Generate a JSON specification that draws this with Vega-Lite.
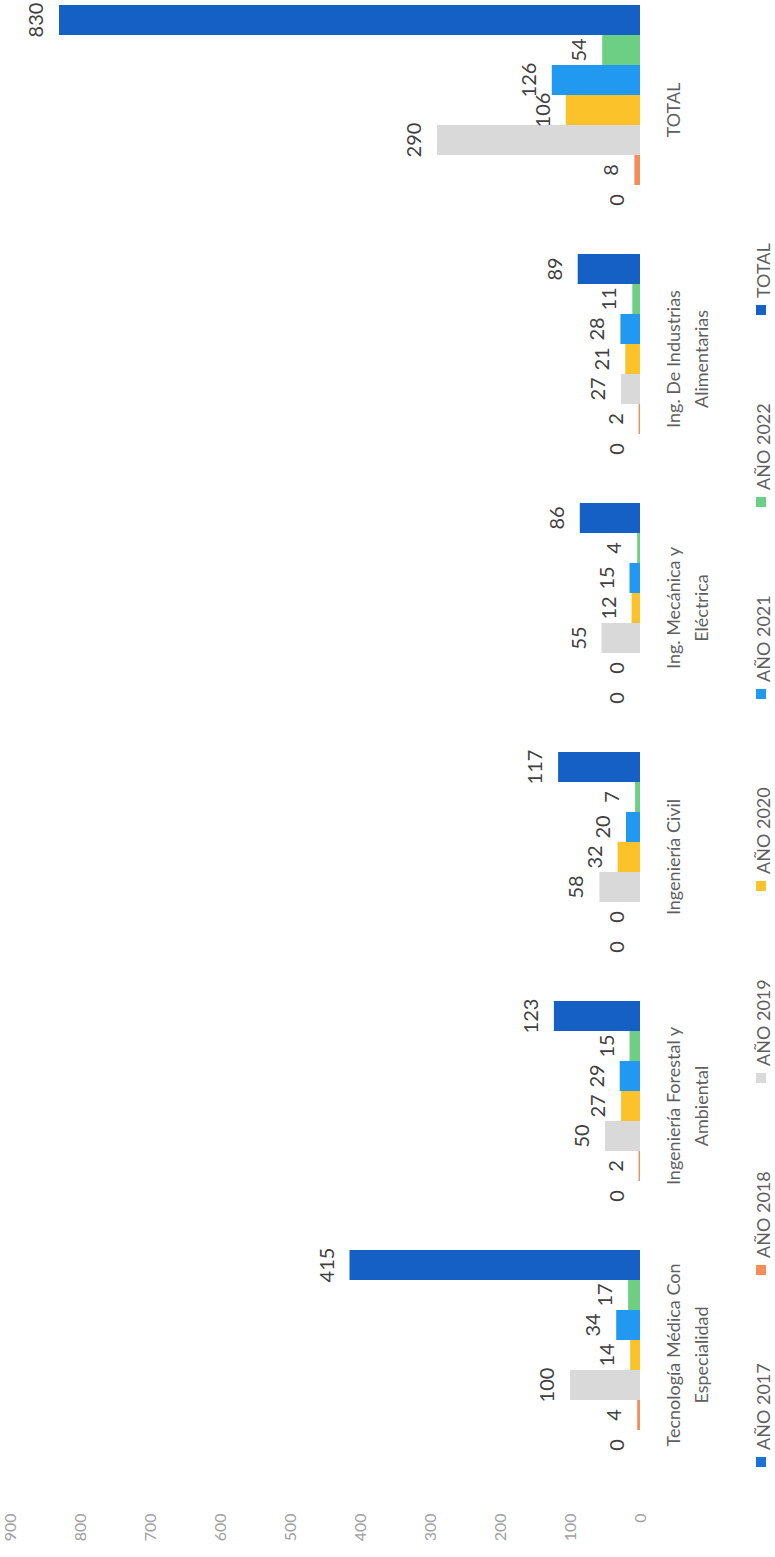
{
  "$schema": "https://vega.github.io/schema/vega-lite/v6.json",
  "width": 630,
  "height": 1505,
  "autosize": {"type": "none"},
  "padding": {"left": 10, "top": 0, "right": 135, "bottom": 52},
  "background": "white",
  "config": {"view": {"stroke": null}, "font": "Lato"},
  "data": {
    "values": [
      {"carrera": "Tecnología Médica Con Especialidad", "serie": "AÑO 2017", "valor": 0},
      {"carrera": "Tecnología Médica Con Especialidad", "serie": "AÑO 2018", "valor": 4},
      {"carrera": "Tecnología Médica Con Especialidad", "serie": "AÑO 2019", "valor": 100},
      {"carrera": "Tecnología Médica Con Especialidad", "serie": "AÑO 2020", "valor": 14},
      {"carrera": "Tecnología Médica Con Especialidad", "serie": "AÑO 2021", "valor": 34},
      {"carrera": "Tecnología Médica Con Especialidad", "serie": "AÑO 2022", "valor": 17},
      {"carrera": "Tecnología Médica Con Especialidad", "serie": "TOTAL", "valor": 415},
      {"carrera": "Ingeniería Forestal y Ambiental", "serie": "AÑO 2017", "valor": 0},
      {"carrera": "Ingeniería Forestal y Ambiental", "serie": "AÑO 2018", "valor": 2},
      {"carrera": "Ingeniería Forestal y Ambiental", "serie": "AÑO 2019", "valor": 50},
      {"carrera": "Ingeniería Forestal y Ambiental", "serie": "AÑO 2020", "valor": 27},
      {"carrera": "Ingeniería Forestal y Ambiental", "serie": "AÑO 2021", "valor": 29},
      {"carrera": "Ingeniería Forestal y Ambiental", "serie": "AÑO 2022", "valor": 15},
      {"carrera": "Ingeniería Forestal y Ambiental", "serie": "TOTAL", "valor": 123},
      {"carrera": "Ingeniería Civil", "serie": "AÑO 2017", "valor": 0},
      {"carrera": "Ingeniería Civil", "serie": "AÑO 2018", "valor": 0},
      {"carrera": "Ingeniería Civil", "serie": "AÑO 2019", "valor": 58},
      {"carrera": "Ingeniería Civil", "serie": "AÑO 2020", "valor": 32},
      {"carrera": "Ingeniería Civil", "serie": "AÑO 2021", "valor": 20},
      {"carrera": "Ingeniería Civil", "serie": "AÑO 2022", "valor": 7},
      {"carrera": "Ingeniería Civil", "serie": "TOTAL", "valor": 117},
      {"carrera": "Ing. Mecánica y Eléctrica", "serie": "AÑO 2017", "valor": 0},
      {"carrera": "Ing. Mecánica y Eléctrica", "serie": "AÑO 2018", "valor": 0},
      {"carrera": "Ing. Mecánica y Eléctrica", "serie": "AÑO 2019", "valor": 55},
      {"carrera": "Ing. Mecánica y Eléctrica", "serie": "AÑO 2020", "valor": 12},
      {"carrera": "Ing. Mecánica y Eléctrica", "serie": "AÑO 2021", "valor": 15},
      {"carrera": "Ing. Mecánica y Eléctrica", "serie": "AÑO 2022", "valor": 4},
      {"carrera": "Ing. Mecánica y Eléctrica", "serie": "TOTAL", "valor": 86},
      {"carrera": "Ing. De Industrias Alimentarias", "serie": "AÑO 2017", "valor": 0},
      {"carrera": "Ing. De Industrias Alimentarias", "serie": "AÑO 2018", "valor": 2},
      {"carrera": "Ing. De Industrias Alimentarias", "serie": "AÑO 2019", "valor": 27},
      {"carrera": "Ing. De Industrias Alimentarias", "serie": "AÑO 2020", "valor": 21},
      {"carrera": "Ing. De Industrias Alimentarias", "serie": "AÑO 2021", "valor": 28},
      {"carrera": "Ing. De Industrias Alimentarias", "serie": "AÑO 2022", "valor": 11},
      {"carrera": "Ing. De Industrias Alimentarias", "serie": "TOTAL", "valor": 89},
      {"carrera": "TOTAL", "serie": "AÑO 2017", "valor": 0},
      {"carrera": "TOTAL", "serie": "AÑO 2018", "valor": 8},
      {"carrera": "TOTAL", "serie": "AÑO 2019", "valor": 290},
      {"carrera": "TOTAL", "serie": "AÑO 2020", "valor": 106},
      {"carrera": "TOTAL", "serie": "AÑO 2021", "valor": 126},
      {"carrera": "TOTAL", "serie": "AÑO 2022", "valor": 54},
      {"carrera": "TOTAL", "serie": "TOTAL", "valor": 830}
    ]
  },
  "encoding": {
    "y": {
      "field": "carrera",
      "type": "nominal",
      "scale": {
        "domain": ["TOTAL", "Ing. De Industrias Alimentarias", "Ing. Mecánica y Eléctrica", "Ingeniería Civil", "Ingeniería Forestal y Ambiental", "Tecnología Médica Con Especialidad"],
        "paddingInner": 0.1566,
        "paddingOuter": 0.1004,
        "align": 0.1
      },
      "axis": {
        "orient": "right",
        "title": null,
        "domain": false,
        "ticks": false,
        "labelAngle": -90,
        "labelAlign": "center",
        "labelBaseline": "top",
        "labelPadding": 25,
        "labelFontSize": 18,
        "labelColor": "#5f5f5f",
        "labelLimit": 400,
        "labelLineHeight": 28,
        "labelOverlap": false,
        "labelExpr": "datum.label == 'Tecnología Médica Con Especialidad' ? ['Tecnología Médica Con', 'Especialidad'] : datum.label == 'Ingeniería Forestal y Ambiental' ? ['Ingeniería Forestal y', 'Ambiental'] : datum.label == 'Ing. Mecánica y Eléctrica' ? ['Ing. Mecánica y', 'Eléctrica'] : datum.label == 'Ing. De Industrias Alimentarias' ? ['Ing. De Industrias', 'Alimentarias'] : datum.label"
      }
    },
    "yOffset": {
      "field": "serie",
      "type": "nominal",
      "scale": {
        "domain": ["TOTAL", "AÑO 2022", "AÑO 2021", "AÑO 2020", "AÑO 2019", "AÑO 2018", "AÑO 2017"],
        "paddingInner": 0,
        "paddingOuter": 0
      }
    },
    "x": {
      "field": "valor",
      "type": "quantitative",
      "scale": {"domain": [0, 900], "reverse": true, "nice": false},
      "axis": {
        "title": null,
        "values": [0, 100, 200, 300, 400, 500, 600, 700, 800, 900],
        "labelAngle": -90,
        "labelAlign": "right",
        "labelBaseline": "middle",
        "labelPadding": 8,
        "labelFontSize": 16,
        "labelColor": "#a0a0a0",
        "domain": false,
        "ticks": false,
        "grid": false
      }
    }
  },
  "layer": [
    {
      "mark": {"type": "bar"},
      "encoding": {
        "color": {
          "field": "serie",
          "type": "nominal",
          "scale": {
            "domain": ["AÑO 2017", "AÑO 2018", "AÑO 2019", "AÑO 2020", "AÑO 2021", "AÑO 2022", "TOTAL"],
            "range": ["#1872d8", "#f48c5c", "#d9d9d9", "#fcc22a", "#2199f0", "#6dcf84", "#1460c4"]
          },
          "legend": {
            "orient": "none",
            "legendX": 742,
            "legendY": 301,
            "direction": "vertical",
            "values": ["TOTAL", "AÑO 2022", "AÑO 2021", "AÑO 2020", "AÑO 2019", "AÑO 2018", "AÑO 2017"],
            "title": null,
            "padding": 0,
            "symbolType": "square",
            "symbolSize": 100,
            "symbolStrokeWidth": 0,
            "symbolOpacity": 1,
            "symbolOffset": 0,
            "labelFontSize": 18,
            "labelColor": "#5f5f5f",
            "labelOffset": -5,
            "labelLimit": 300,
            "rowPadding": 88,
            "encoding": {
              "labels": {"angle": {"value": -90}, "dx": {"value": 12}}
            }
          }
        }
      }
    },
    {
      "mark": {"type": "text", "angle": -90, "align": "center", "baseline": "bottom", "dy": -12, "fontSize": 20, "color": "#404040"},
      "encoding": {"text": {"field": "valor", "type": "quantitative"}}
    }
  ]
}
